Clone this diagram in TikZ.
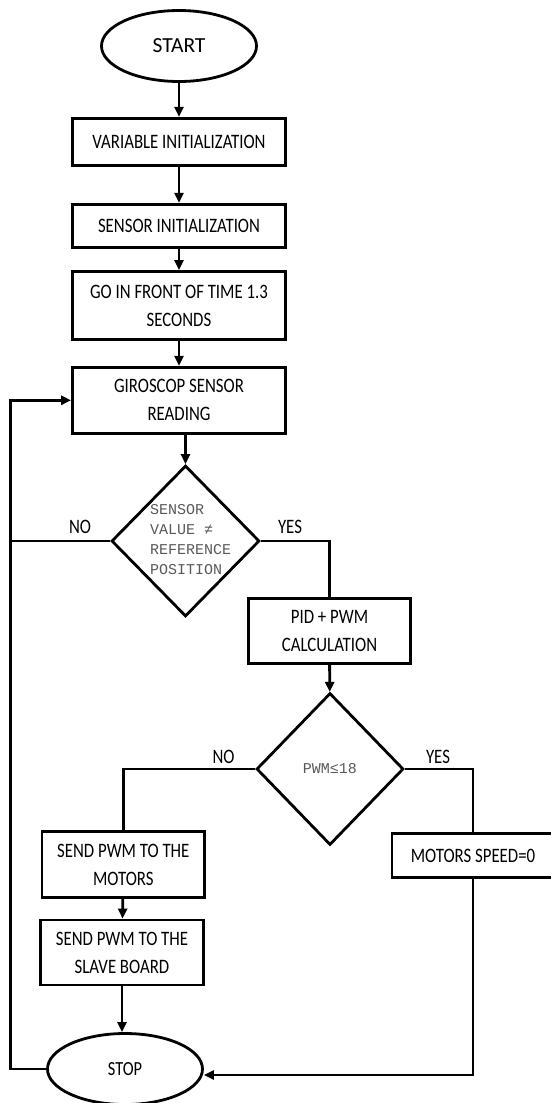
\documentclass[tikz,border=0pt]{standalone}
\usepackage{fontspec}
\setmainfont{Carlito}[FakeStretch=0.82]
\newfontfamily\wideFont{Carlito}
\newfontfamily\codefont{Liberation Mono}
\usetikzlibrary{shapes,arrows.meta,calc}

\begin{document}
\begin{tikzpicture}
[x=1pt,y=-1pt,
every node/.style={font=\fontsize{20.5}{28}\selectfont,align=center},
term/.style={draw,ellipse,line width=2.8pt,minimum width=155pt,minimum height=71pt,inner sep=0pt},
proc/.style={draw,rectangle,line width=2.8pt,minimum width=213pt,inner sep=0pt},
cond/.style={draw,diamond,line width=2.8pt,inner sep=0pt,text=black!65,font=\codefont\fontsize{15}{20}\selectfont},
lab/.style={inner sep=0pt},
code/.style={inner sep=0pt,align=left,text=black!65,font=\codefont\fontsize{15}{20}\selectfont},
myedge/.style={>={Triangle[length=10pt,width=9pt]},line width=2.8pt}]
\useasboundingbox (0,0) rectangle (550,1103);
%%%%%%%%%%
%%%%% main column
%% vertices
\node[term,font=\wideFont\fontsize{21.5}{28}\selectfont] (start) at (179,46) {START};
\node[proc,minimum height=47pt] (init1) at (179,141.7) {VARIABLE INITIALIZATION};
\node[proc,minimum height=43pt] (init2) at (179,225.7) {SENSOR INITIALIZATION};
\node[proc,minimum height=68pt] (front) at (179,305.5) {GO IN FRONT OF TIME 1.3\\SECONDS};
\node[proc,minimum height=66pt] (gyro) at (179,400.3) {GIROSCOP SENSOR\\READING};
\node[cond,minimum width=148pt,minimum height=151pt] (dec1) at (185.5,541) {};
\node[code,anchor=west] (dec1txt) at (150,540) {SENSOR\\VALUE ≠\\REFERENCE\\POSITION};
%% branches
\node[proc,minimum width=162pt,minimum height=65pt] (pid) at (329.5,630.8) {PID + PWM\\CALCULATION};
\node[cond,minimum width=147pt,minimum height=152pt] (dec2) at (330,769) {PWM≤18};
\node[proc,minimum width=162.5pt,minimum height=65.6pt] (send1) at (123.3,864.5) {SEND PWM TO THE\\MOTORS};
\node[proc,minimum width=163pt,minimum height=65pt] (send2) at (122,952.5) {SEND PWM TO THE\\SLAVE BOARD};
\node[proc,minimum width=162pt,minimum height=44.4pt] (speed) at (473,855.5) {MOTORS SPEED=0};
\node[term,font=\fontsize{20}{28}\selectfont] (stop) at (125,1069) {STOP};
\coordinate (lp) at (10.5,400.3);
%% labels
\node[lab] (no1) at (80,527) {NO};
\node[lab] (yes1) at (290,527) {YES};
\node[lab] (no2) at (223.5,757) {NO};
\node[lab] (yes2) at (438,757) {YES};
%% edges
\draw[myedge,->] (start) -- (init1);
\draw[myedge,->] (init1) -- (init2);
\draw[myedge,->] (init2) -- (front);
\draw[myedge,->] (front) -- (gyro);
\draw[myedge,->] (gyro.south -| dec1) -- (dec1);
\draw[myedge] (dec1.east) -| (pid.north);
\draw[myedge] (dec1.west) -- (dec1.west -| lp);
\draw[myedge,->] (pid) -- (dec2);
\draw[myedge] (dec2.west) -| (send1.north);
\draw[myedge] (dec2.east) -| (speed.north);
\draw[myedge,->] (send1) -- (send2);
\draw[myedge,->] (send2.south) -- (send2.south |- stop.north);
\draw[myedge,->] (speed.south) |- ([yshift=-6pt]stop.east);
\draw[myedge,->] (stop.west) -| (lp) -- (gyro.west);
\end{tikzpicture}
\end{document}
